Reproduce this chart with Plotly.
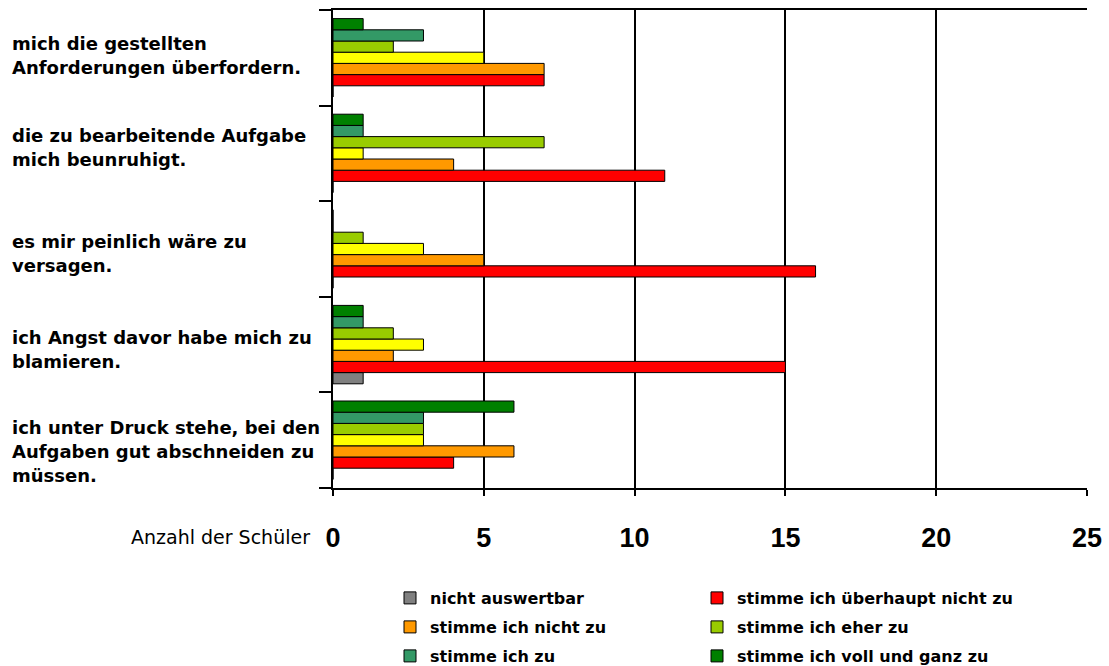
import plotly.graph_objects as go

# Categories (top to bottom as shown in the chart), one list entry per text line
categories = [
    ["mich die gestellten", "Anforderungen überfordern."],
    ["die zu bearbeitende Aufgabe", "mich beunruhigt."],
    ["es mir peinlich wäre zu", "versagen."],
    ["ich Angst davor habe mich zu", "blamieren."],
    ["ich unter Druck stehe, bei den", "Aufgaben gut abschneiden zu", "müssen."],
]
cat_keys = ["c1", "c2", "c3", "c4", "c5"]

# Series values (same order as categories)
nicht_auswertbar = [0, 0, 0, 1, 0]
ueberhaupt_nicht = [7, 11, 16, 15, 4]
nicht_zu = [7, 4, 5, 2, 6]
teilweise = [5, 1, 3, 3, 3]
eher_zu = [2, 7, 1, 2, 3]
zu = [3, 1, 0, 1, 3]
voll_und_ganz = [1, 1, 0, 1, 6]

x_ticks = [0, 5, 10, 15, 20, 25]
x_title = "Anzahl der Schüler"

# (name, values, colour, legend id or None)
series = [
    ("nicht auswertbar", nicht_auswertbar, "#808080", "legend"),
    ("stimme ich überhaupt nicht zu", ueberhaupt_nicht, "#FF0000", "legend2"),
    ("stimme ich nicht zu", nicht_zu, "#FF9900", "legend3"),
    ("stimme ich teilweise zu", teilweise, "#FFFF00", None),
    ("stimme ich eher zu", eher_zu, "#99CC00", "legend4"),
    ("stimme ich zu", zu, "#339966", "legend5"),
    ("stimme ich voll und ganz zu", voll_und_ganz, "#008000", "legend6"),
]

FONT = "Liberation Sans, Arial, sans-serif"
LFONT = "DejaVu Sans, sans-serif"

fig = go.Figure()
for name, vals, color, leg in series:
    fig.add_trace(go.Bar(
        y=cat_keys[::-1], x=vals[::-1], name=name, orientation="h",
        marker=dict(color=color, line=dict(color="black", width=1)),
        showlegend=leg is not None, legend=leg or "legend",
    ))

W, H = 1109, 666
ml, mr, mt, mb = 333, 22, 10, 178
pw = W - ml - mr
ph = H - mt - mb

# label layout (style): vertical shift of each label block, line spacing
label_dy = [-2.5, -5.5, 4, 4.5, 11]
line_gap = 24

annotations = []
for key, lines, dy in zip(cat_keys, categories, label_dy):
    n = len(lines)
    for i, line in enumerate(lines):
        off = (i - (n - 1) / 2) * line_gap + dy
        annotations.append(dict(
            x=(10 - ml) / pw, xref="paper", y=key, yref="y", yshift=-off,
            text="<b>" + line + "</b>", showarrow=False,
            xanchor="left", yanchor="middle", align="left",
            font=dict(family=LFONT, size=18, color="black"),
        ))
annotations.append(dict(
    x=(312 - ml) / pw, xref="paper", y=-(537 - (mt + ph)) / ph, yref="paper",
    text=x_title, showarrow=False, xanchor="right", yanchor="middle",
    font=dict(family=LFONT, size=19, color="black"),
))

# legend grid (style): column x-positions and row top positions in pixels
leg_cols = [390, 697]
leg_rows = [581, 610, 639]

def legend_at(col, row):
    return dict(
        orientation="h", x=(leg_cols[col] - ml) / pw, xanchor="left", xref="paper",
        y=1 - leg_rows[row] / H, yanchor="top", yref="container",
        font=dict(family=LFONT, size=16, color="black", weight="bold"),
        itemwidth=30, bgcolor="rgba(0,0,0,0)",
    )

fig.update_layout(
    width=W, height=H,
    margin=dict(l=ml, r=mr, t=mt, b=mb, autoexpand=False),
    paper_bgcolor="white", plot_bgcolor="white",
    barmode="group", bargap=0.18, bargroupgap=0,
    font=dict(family=FONT, color="black"),
    annotations=annotations,
    legend=legend_at(0, 0),
    legend2=legend_at(1, 0),
    legend3=legend_at(0, 1),
    legend4=legend_at(1, 1),
    legend5=legend_at(0, 2),
    legend6=legend_at(1, 2),
    xaxis=dict(
        range=[0, 25], tickvals=x_ticks, ticktext=[str(t) for t in x_ticks],
        showgrid=True, gridcolor="black", gridwidth=1.5,
        showline=True, linecolor="black", linewidth=2, mirror=True,
        ticks="outside", ticklen=6, tickcolor="black", tickwidth=2,
        tickfont=dict(family=FONT, size=27, color="black", weight="bold"),
        ticklabelstandoff=19, zeroline=False, automargin=False,
    ),
    yaxis=dict(
        categoryorder="array", categoryarray=cat_keys[::-1],
        showticklabels=False, showgrid=False,
        showline=True, linecolor="black", linewidth=2,
        ticks="outside", ticklen=12, tickcolor="black", tickwidth=2,
        tickson="boundaries", automargin=False,
    ),
)

fig.write_html("out.html")
